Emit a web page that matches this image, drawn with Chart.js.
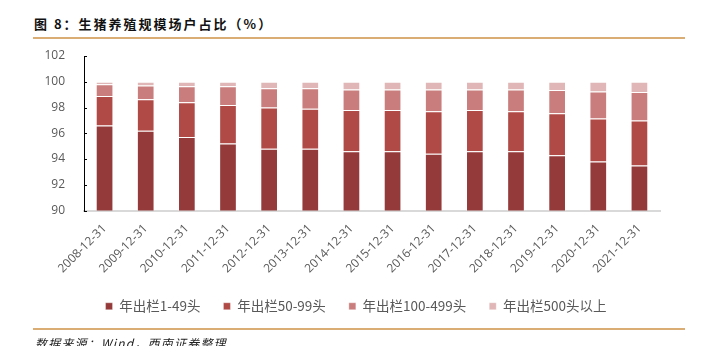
<!DOCTYPE html>
<html>
<head>
<meta charset="utf-8">
<script src="https://cdn.jsdelivr.net/npm/chart.js@4/dist/chart.umd.min.js"></script>
<style>
  body { margin: 0; background: #fff; }
  #wrap { position: relative; width: 711px; height: 346px; overflow: hidden; }
  #chart { position: absolute; left: 0; top: 0; }
  .title {
    position: absolute; left: 34px; top: 14px;
    font: bold 13px "Noto Sans CJK SC", sans-serif; color: #111; letter-spacing: 2px;
  }
  .rule { position: absolute; left: 33px; width: 652px; height: 2px; background: #d9ad74; }
  .source {
    position: absolute; left: 35px; top: 334px;
    font: italic 12px "Noto Sans CJK SC", sans-serif; color: #222; letter-spacing: 1.2px;
  }
</style>
</head>
<body>
<div id="wrap">
  <div class="title">图 8：生猪养殖规模场户占比（%）</div>
  <div class="rule" style="top:37px"></div>
  <canvas id="chart" width="711" height="346"></canvas>
  <div class="rule" style="top:328px"></div>
  <div class="source">数据来源：Wind，西南证券整理</div>
</div>
<script>
const labels = ['2008-12-31', '2009-12-31', '2010-12-31', '2011-12-31', '2012-12-31', '2013-12-31', '2014-12-31',
  '2015-12-31', '2016-12-31', '2017-12-31', '2018-12-31', '2019-12-31', '2020-12-31', '2021-12-31'];

// 各规模场户占比（%）
const small = [96.6, 96.2, 95.7, 95.2, 94.8, 94.8, 94.6, 94.6, 94.4, 94.6, 94.6, 94.3, 93.8, 93.5];
const mid = [2.3, 2.45, 2.7, 3.0, 3.2, 3.1, 3.2, 3.2, 3.3, 3.2, 3.1, 3.25, 3.35, 3.5];
const large = [0.9, 1.05, 1.25, 1.45, 1.5, 1.6, 1.6, 1.6, 1.7, 1.6, 1.7, 1.8, 2.1, 2.2];
const huge = [0.2, 0.3, 0.35, 0.35, 0.5, 0.5, 0.6, 0.6, 0.6, 0.6, 0.6, 0.65, 0.75, 0.8];

const yTicks = [90, 92, 94, 96, 98, 100, 102];

const canvas = document.getElementById('chart');
const gray = '#595959';

const bar = (label, data, color) => ({
  label: label,
  data: data,
  backgroundColor: color,
  borderColor: 'rgba(255,255,255,0.35)',
  borderWidth: 1,
  barPercentage: 0.43,
  categoryPercentage: 1,
});

// short inward ticks on the value axis
const yTickMarks = {
  id: 'yTickMarks',
  afterDraw(chart) {
    const y = chart.scales.y;
    const ctx = chart.ctx;
    ctx.save();
    ctx.strokeStyle = '#000';
    ctx.lineWidth = 1;
    yTicks.forEach((v) => {
      const py = Math.round(y.getPixelForValue(v)) + 0.5;
      ctx.beginPath();
      ctx.moveTo(y.right, py);
      ctx.lineTo(y.right + 3, py);
      ctx.stroke();
    });
    ctx.restore();
  },
};

// center the legend on the whole page, not just the padded area
const legendShift = {
  id: 'legendShift',
  afterLayout(chart) {
    chart.legend.left += 26;
    chart.legend.right += 26;
  },
};

new Chart(canvas, {
  type: 'bar',
  data: {
    labels: labels,
    datasets: [
      bar('年出栏1-49头', small, '#943a3a'),
      bar('年出栏50-99头', mid, '#b04a47'),
      bar('年出栏100-499头', large, '#c97d7c'),
      bar('年出栏500头以上', huge, '#e0b6b6'),
    ],
  },
  options: {
    responsive: false,
    animation: false,
    layout: { padding: { top: 56, left: 0, right: 51, bottom: 23 } },
    plugins: {
      tooltip: { enabled: false },
      legend: {
        position: 'bottom',
        labels: {
          boxWidth: 7,
          boxHeight: 7,
          padding: 23,
          color: gray,
          font: { family: '"Noto Sans CJK SC", sans-serif', size: 13.5 },
        },
      },
    },
    scales: {
      x: {
        stacked: true,
        grid: { display: false },
        border: { display: true, color: '#d9d9d9', width: 2 },
        ticks: {
          color: gray,
          maxRotation: 45,
          minRotation: 45,
          font: { family: '"Open Sans", sans-serif', size: 12 },
        },
        afterFit: (scale) => { scale.height = 66; },
      },
      y: {
        stacked: true,
        min: 90,
        max: 102,
        afterBuildTicks: (scale) => { scale.ticks = yTicks.map((v) => ({ value: v })); },
        grid: { display: false },
        border: { display: true, color: '#000', width: 1 },
        ticks: {
          color: gray,
          padding: 11,
          font: { family: '"Open Sans", sans-serif', size: 12 },
        },
        afterFit: (scale) => { scale.width = 84; },
      },
    },
  },
  plugins: [yTickMarks, legendShift],
});
</script>
</body>
</html>
